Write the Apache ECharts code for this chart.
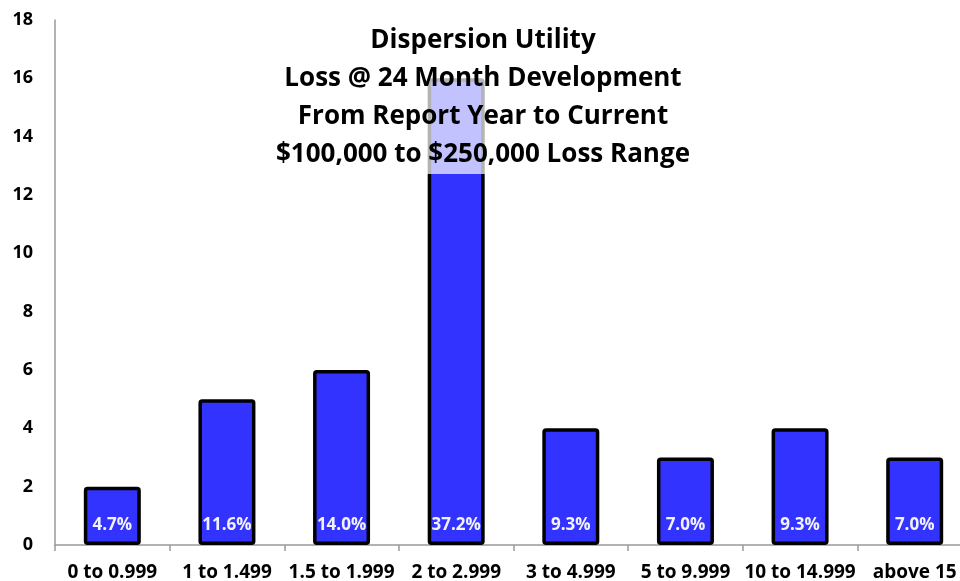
<!DOCTYPE html>
<html>
<head>
<meta charset="utf-8">
<script src="https://cdn.jsdelivr.net/npm/echarts@6/dist/echarts.min.js"></script>
<style>
  html, body { margin: 0; padding: 0; background: #fff; }
  #chart { width: 960px; height: 581px; }
</style>
</head>
<body>
<div id="chart"></div>
<script>
const categories = ['0 to 0.999', '1 to 1.499', '1.5 to 1.999', '2 to 2.999', '3 to 4.999', '5 to 9.999', '10 to 14.999', 'above 15']
const counts = [2, 5, 6, 16, 4, 3, 4, 3]
const shares = ['4.7%', '11.6%', '14.0%', '37.2%', '9.3%', '7.0%', '9.3%', '7.0%']
const titleLines = [
  'Dispersion Utility',
  'Loss @ 24 Month Development',
  'From Report Year to Current',
  '$100,000 to $250,000 Loss Range'
]

const FONT = '"Open Sans", Lato, sans-serif'

const chart = echarts.init(document.getElementById('chart'), null, { renderer: 'canvas' })

chart.setOption({
  backgroundColor: '#ffffff',
  animation: false,
  title: {
    text: titleLines.join('\n'),
    left: 471,
    top: 16,
    textAlign: 'center',
    backgroundColor: 'rgba(255,255,255,0.7)',
    padding: [6, 12, 0, 12],
    textStyle: {
      fontFamily: FONT,
      fontWeight: 'bold',
      fontSize: 26,
      lineHeight: 38,
      color: '#000'
    }
  },
  // plot runs a little past the right edge, as in the source image
  grid: { left: 55, width: 917, top: 20, bottom: 36, containLabel: false, outerBoundsMode: 'none' },
  xAxis: {
    type: 'category',
    data: categories,
    axisLine: { lineStyle: { color: '#999', width: 1.5 } },
    axisTick: { show: true, length: 6, lineStyle: { color: '#999', width: 1.5 } },
    axisLabel: {
      margin: 18,
      interval: 0,
      fontFamily: FONT,
      fontWeight: 'bold',
      fontSize: 19,
      color: '#000'
    }
  },
  yAxis: {
    type: 'value',
    min: 0,
    max: 18,
    interval: 2,
    axisLine: { show: true, lineStyle: { color: '#999', width: 1.5 } },
    axisTick: { show: false },
    splitLine: { show: false },
    axisLabel: {
      margin: 22,
      fontFamily: FONT,
      fontWeight: 'bold',
      fontSize: 18,
      color: '#000'
    }
  },
  series: [{
    type: 'bar',
    data: counts,
    barWidth: 57,
    itemStyle: {
      color: '#3333ff',
      borderColor: '#000',
      borderWidth: 3.5,
      borderRadius: 2
    },
    label: {
      show: true,
      position: 'insideBottom',
      distance: 11,
      formatter: (p) => shares[p.dataIndex],
      fontFamily: FONT,
      fontWeight: 'bold',
      fontSize: 17,
      color: '#f2f2ff'
    },
    emphasis: { disabled: true }
  }]
})
</script>
</body>
</html>
